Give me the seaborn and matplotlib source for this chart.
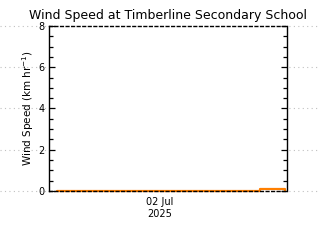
import numpy as np
import pandas as pd
import seaborn as sns
import matplotlib.pyplot as plt
import matplotlib.transforms as mtrans
from matplotlib.lines import Line2D
from matplotlib.ticker import MultipleLocator

# hours relative to 02 Jul 2025 00:00
hours = [-10.4, -6.0, -2.0, 2.0, 6.0, 10.0, 10.1, 12.5, 12.6]
wind = [0.0, 0.0, 0.0, 0.0, 0.0, 0.0, 0.08, 0.08, 0.0]
yticks = [0, 2, 4, 6, 8]
xtick_pos = [0]
xtick_labels = ["02 Jul\n2025"]

df = pd.DataFrame({"hour": hours, "wind": wind})

sns.set_style("white")
plt.rcParams["font.family"] = ["DejaVu Sans"]
plt.rcParams["text.color"] = "black"
plt.rcParams["axes.labelcolor"] = "black"
plt.rcParams["xtick.color"] = "black"
plt.rcParams["ytick.color"] = "black"

fig = plt.figure(figsize=(3.2, 2.4), dpi=100)
ax = fig.add_axes([0.153, 0.204, 0.744, 0.688])
ax.set_facecolor("white")

sns.lineplot(data=df, x="hour", y="wind", ax=ax, color="#ff7f00",
             linewidth=1.6, drawstyle="steps-post", clip_on=False)

ax.set_xlim(-11.2, 12.8)
ax.set_ylim(0, 8)
ax.set_yticks(yticks)
ax.yaxis.set_minor_locator(MultipleLocator(0.5))
ax.set_xticks(xtick_pos)
ax.set_xticklabels(xtick_labels, fontsize=7, linespacing=1.3)
ax.tick_params(axis="x", length=0, pad=4)
ax.tick_params(axis="y", which="major", direction="in", length=4, width=0.9,
               right=True, left=True, labelsize=7, pad=3)
ax.tick_params(axis="y", which="minor", direction="in", length=3, width=0.9,
               right=True, left=True)
ax.set_xlabel("")
ax.set_ylabel("Wind Speed (km hr$^{-1}$)", fontsize=7.5, labelpad=2)
ax.set_title("Wind Speed at Timberline Secondary School", fontsize=9, pad=5)

for side in ["left", "right"]:
    ax.spines[side].set_visible(True)
    ax.spines[side].set_color("black")
    ax.spines[side].set_linewidth(1.0)
for side in ["top", "bottom"]:
    ax.spines[side].set_visible(True)
    ax.spines[side].set_color("black")
    ax.spines[side].set_linewidth(1.0)
    ax.spines[side].set_linestyle((0, (2, 2)))

# dotted guide lines across the figure, hidden behind the plot area
tr = mtrans.blended_transform_factory(fig.transFigure, ax.transData)
for y in yticks:
    fig.add_artist(Line2D([0, 1], [y, y], transform=tr, color="#c0c0c0",
                          linestyle=(0, (1, 3)), linewidth=0.8, zorder=-1))

fig.savefig("out.png", dpi=100)
